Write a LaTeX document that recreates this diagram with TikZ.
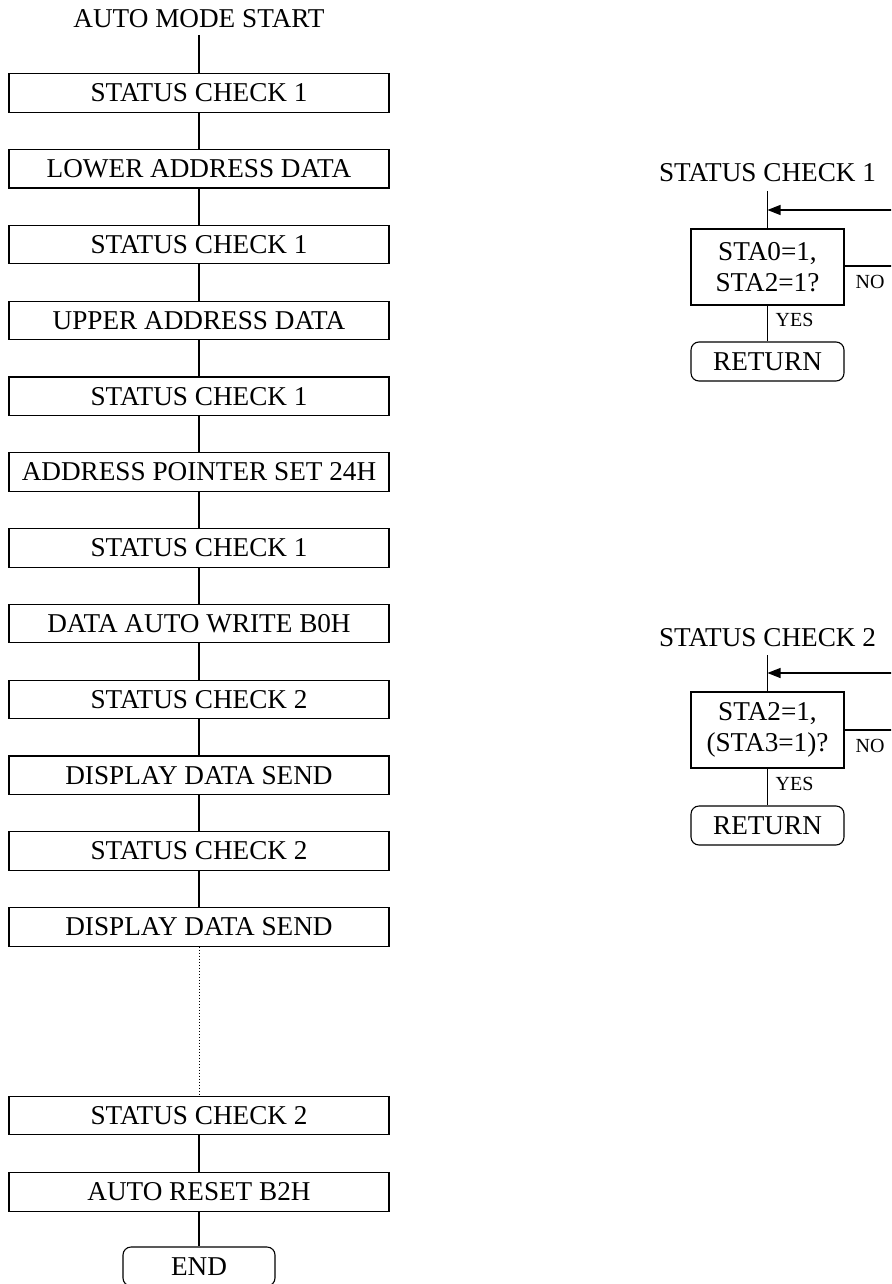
\documentclass[tikz,border=0pt]{standalone}
\usepackage{fontspec}
\setmainfont{Liberation Serif}
\usetikzlibrary{arrows.meta}
\newcommand\bigfont{\fontsize{27.2pt}{31.5pt}\selectfont}
\newcommand\smallfont{\fontsize{20pt}{24pt}\selectfont}
\begin{document}
\begin{tikzpicture}[x=1pt,y=-1pt,line width=1.1pt,
  box/.style={draw, minimum width=380pt, minimum height=38.5pt, inner sep=0pt, font=\bigfont},
  term/.style={draw, rounded corners=8pt, minimum height=39pt, inner sep=0pt, font=\bigfont},
  decbox/.style={draw, minimum width=153pt, minimum height=76pt, inner sep=0pt, align=center, font=\bigfont},
  lbl/.style={inner sep=0pt, font=\bigfont},
  sml/.style={inner sep=0pt, font=\smallfont},
  tip/.style={-{Triangle[length=13pt,width=10pt]}}]
\useasboundingbox (0,0) rectangle (891,1284);
\clip (0,0) rectangle (891,1284);

% ---------- main flow ----------
\node[lbl, anchor=base] (start) at (199,28) {AUTO MODE START};
\node[box] (b1)  at (199,93)    {STATUS CHECK 1};
\node[box] (b2)  at (199,168.8) {LOWER ADDRESS DATA};
\node[box] (b3)  at (199,244.6) {STATUS CHECK 1};
\node[box] (b4)  at (199,320.4) {UPPER ADDRESS DATA};
\node[box] (b5)  at (199,396.2) {STATUS CHECK 1};
\node[box] (b6)  at (199,472)   {ADDRESS POINTER SET 24H};
\node[box] (b7)  at (199,547.8) {STATUS CHECK 1};
\node[box] (b8)  at (199,623.6) {DATA AUTO WRITE B0H};
\node[box] (b9)  at (199,699.4) {STATUS CHECK 2};
\node[box] (b10) at (199,775.2) {DISPLAY DATA SEND};
\node[box] (b11) at (199,851)   {STATUS CHECK 2};
\node[box] (b12) at (199,926.8) {DISPLAY DATA SEND};
\node[box] (b13) at (199,1115.5) {STATUS CHECK 2};
\node[box] (b14) at (199,1192)  {AUTO RESET B2H};
\node[term, minimum width=152pt] (end) at (199,1266.5) {END};

\draw ([yshift=-7pt]start.base) -- (b1);
\foreach \a/\b in {b1/b2,b2/b3,b3/b4,b4/b5,b5/b6,b6/b7,b7/b8,b8/b9,b9/b10,b10/b11,b11/b12,b13/b14,b14/end}
  \draw (\a) -- (\b);
\draw[dotted, line width=1pt] (b12) -- (b13);

% ---------- status check 1 ----------
\node[lbl, anchor=base] (t1) at (767.5,182) {STATUS CHECK 1};
\node[decbox] (d1) at (767.5,267) {STA0=1,\\STA2=1?};
\node[term, minimum width=153pt] (r1) at (767.5,361.5) {RETURN};
\coordinate (j1) at (767.5,210);
\coordinate (e1) at (900,210);
\coordinate (n1) at (900,266);
\draw ([yshift=-9pt]t1.base) -- (d1);
\draw[tip] (e1) -- (j1);
\draw (d1.east |- n1) -- (n1);
\draw (d1) -- (r1);
\node[sml] (no1) at (870,282) {NO};
\node[sml] (yes1) at (794.5,320) {YES};

% ---------- status check 2 ----------
\node[lbl, anchor=base] (t2) at (767.5,646) {STATUS CHECK 2};
\node[decbox] (d2) at (767.5,730) {STA2=1,\\(STA3=1)?};
\node[term, minimum width=153pt] (r2) at (767.5,825.5) {RETURN};
\coordinate (j2) at (767.5,673);
\coordinate (e2) at (900,673);
\coordinate (n2) at (900,730);
\draw ([yshift=-9pt]t2.base) -- (d2);
\draw[tip] (e2) -- (j2);
\draw (d2.east |- n2) -- (n2);
\draw (d2) -- (r2);
\node[sml] (no2) at (870,746) {NO};
\node[sml] (yes2) at (794.5,784) {YES};
\end{tikzpicture}
\end{document}
